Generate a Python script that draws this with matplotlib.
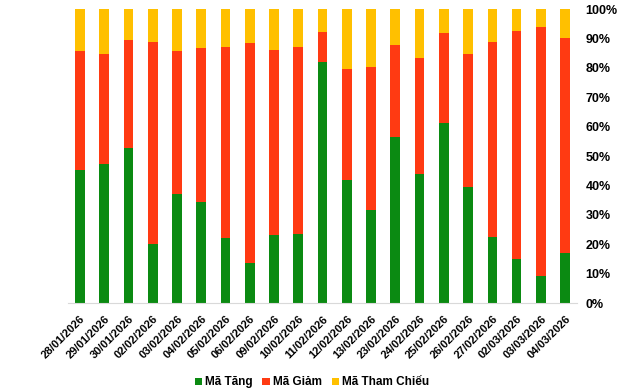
import matplotlib.pyplot as plt
import numpy as np

plt.rcParams['font.family'] = ['Liberation Sans', 'DejaVu Sans']

dates = ['28/01/2026', '29/01/2026', '30/01/2026', '02/02/2026', '03/02/2026',
         '04/02/2026', '05/02/2026', '06/02/2026', '09/02/2026', '10/02/2026',
         '11/02/2026', '12/02/2026', '13/02/2026', '23/02/2026', '24/02/2026',
         '25/02/2026', '26/02/2026', '27/02/2026', '02/03/2026', '03/03/2026',
         '04/03/2026']

# share of codes (%)
tang = [45.2, 47.3, 52.8, 20.0, 37.1, 34.4, 22.1, 13.5, 23.1, 23.5, 82.1,
        41.9, 31.7, 56.4, 43.9, 61.2, 39.4, 22.4, 15.0, 9.2, 16.9]
giam = [40.5, 37.4, 36.6, 68.8, 48.6, 52.3, 64.9, 74.9, 62.9, 63.5, 10.1,
        37.7, 48.6, 31.3, 39.4, 30.6, 45.3, 66.4, 77.5, 84.7, 73.2]
tham_chieu = [100 - a - b for a, b in zip(tang, giam)]

fig = plt.figure(figsize=(6.4, 3.92), dpi=100)
ax = fig.add_axes([0.106, 0.227, 0.796, 0.75])

x = np.arange(len(dates))
w = 0.4
ax.bar(x, tang, width=w, color='#0B8A12', label='Mã Tăng')
ax.bar(x, giam, width=w, bottom=tang, color='#FF3A12', label='Mã Giảm')
ax.bar(x, tham_chieu, width=w, bottom=np.array(tang) + np.array(giam),
       color='#FFC000', label='Mã Tham Chiếu')

ax.set_xlim(-0.5, len(dates) - 0.5)
ax.set_ylim(0, 100)
ax.yaxis.tick_right()
ax.set_yticks(range(0, 101, 10))
ax.set_yticklabels([f'{v}%' for v in range(0, 101, 10)], fontsize=9,
                   fontweight='bold')
ax.set_xticks(x)
ax.set_xticklabels(dates, rotation=45, ha='right', rotation_mode='anchor',
                   fontsize=8, fontweight='bold')
ax.tick_params(axis='x', length=0, pad=8)
ax.tick_params(axis='y', length=0, pad=6)

for s in ['top', 'left', 'right']:
    ax.spines[s].set_visible(False)
ax.spines['bottom'].set_color('#D9D9D9')

leg = fig.legend(loc='lower center', bbox_to_anchor=(0.4875, -0.018), ncol=3,
                 frameon=False, handlelength=0.6, handleheight=0.6,
                 handletextpad=0.3, columnspacing=0.8,
                 prop={'size': 8.5, 'weight': 'bold'})

fig.savefig('out.png', dpi=100)
